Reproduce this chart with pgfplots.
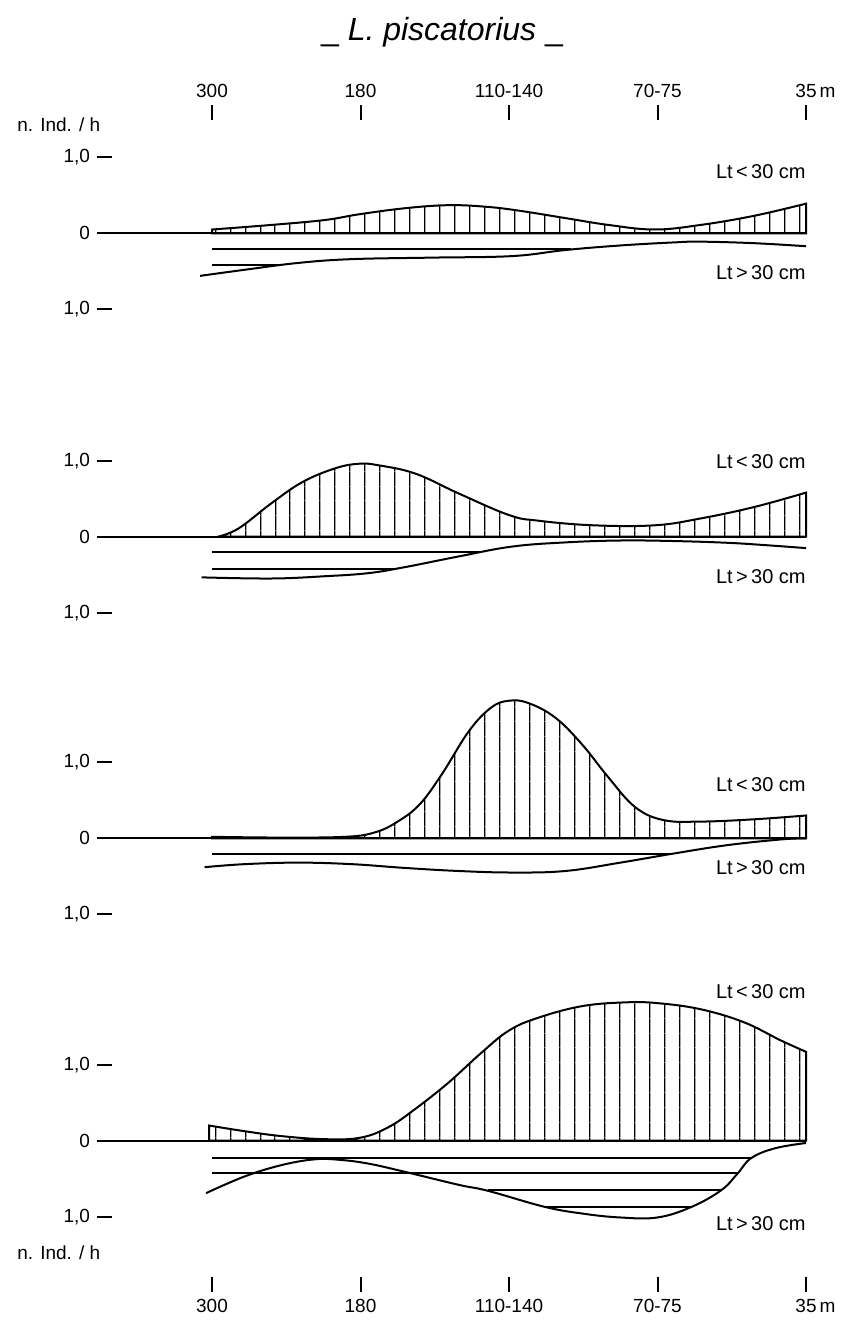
\documentclass[border=0pt]{standalone}
\usepackage{fontspec}
\setmainfont{Liberation Sans}
\usepackage{pgfplots}
\usepackage{pgfplotstable}
\pgfplotsset{compat=1.18}
\usetikzlibrary{patterns.meta}

% Panel 1
\pgfplotstableread{
x y
0.00 0.05
0.40 0.11
0.76 0.175
0.99 0.25
1.30 0.33
1.59 0.37
1.84 0.35
2.06 0.30
2.38 0.20
2.67 0.11
2.98 0.05
3.29 0.11
3.65 0.23
4.00 0.39
}\upA
\pgfplotstableread{
x y
-0.08 -0.56
0.22 -0.48
0.58 -0.39
0.94 -0.34
1.48 -0.32
2.02 -0.30
2.38 -0.22
2.75 -0.16
3.11 -0.12
3.29 -0.11
3.65 -0.13
4.00 -0.17
}\loA
% Panel 2
\pgfplotstableread{
x y
0.04 0.0
0.18 0.11
0.40 0.44
0.61 0.72
0.83 0.90
0.99 0.96
1.12 0.94
1.37 0.83
1.66 0.57
2.00 0.285
2.20 0.21
2.57 0.15
2.98 0.15
3.29 0.24
3.65 0.39
4.00 0.58
}\upB
\pgfplotstableread{
x y
-0.07 -0.535
0.40 -0.55
0.76 -0.52
1.05 -0.48
1.30 -0.40
1.66 -0.26
2.02 -0.13
2.38 -0.075
2.75 -0.05
3.11 -0.057
3.47 -0.08
3.72 -0.11
4.00 -0.15
}\loB
% Panel 3
\pgfplotstableread{
x y
0.00 0.02
0.45 0.01
0.90 0.02
1.10 0.08
1.25 0.22
1.40 0.45
1.55 0.85
1.73 1.41
1.88 1.72
2.00 1.81
2.13 1.78
2.31 1.59
2.49 1.24
2.67 0.80
2.85 0.41
3.04 0.24
3.29 0.22
3.65 0.25
4.00 0.30
}\upC
\pgfplotstableread{
x y
-0.05 -0.38
0.22 -0.34
0.58 -0.32
0.94 -0.34
1.30 -0.39
1.66 -0.43
2.02 -0.45
2.38 -0.43
2.75 -0.32
3.11 -0.20
3.47 -0.09
3.83 -0.015
4.00 0.0
}\loC
% Panel 4
\pgfplotstableread{
x y
-0.02 0.20
0.22 0.125
0.47 0.06
0.76 0.02
1.00 0.04
1.19 0.18
1.37 0.42
1.59 0.76
1.81 1.15
2.00 1.45
2.20 1.62
2.49 1.77
2.78 1.82
3.00 1.81
3.29 1.73
3.58 1.56
3.83 1.32
4.00 1.17
}\upD
\pgfplotstableread{
x y
-0.04 -0.69
0.22 -0.47
0.47 -0.32
0.69 -0.245
0.85 -0.25
1.05 -0.30
1.30 -0.41
1.66 -0.58
1.86 -0.66
2.24 -0.87
2.50 -0.96
2.75 -1.01
3.00 -1.01
3.23 -0.87
3.43 -0.65
3.54 -0.43
3.63 -0.23
3.79 -0.10
4.00 -0.03
}\loD

\tikzset{
  lab/.style={anchor=east, inner sep=0pt, font=\fontsize{10}{12}\selectfont},
  unitlab/.style={anchor=west, inner sep=0pt, font=\fontsize{9.5}{11}\selectfont},
}
\pgfplotsset{
  panel/.style={
    x=74.25pt, y=38pt,
    xmin=-0.774, xmax=4.05,
    axis y line*=left,
    axis line style={draw=none},
    ytick={-1,0,1},
    yticklabels={{1,0},{0},{1,0}},
    ytick align=inside,
    major tick length=7.5pt,
    tick style={black, line width=1pt},
    tick label style={font=\fontsize{9.5}{11}\selectfont},
    clip=false,
    anchor=origin,
  },
  hatchup/.style={smooth, tension=0.65, line width=1pt, black,
    pattern={Lines[angle=90,distance=7.4pt,line width=0.6pt]}},
  lowcurve/.style={smooth, tension=0.65, line width=1pt, black},
  hline/.style={line width=1pt, black},
  zline/.style={line width=1.1pt, black},
}

\begin{document}
\begin{tikzpicture}
\useasboundingbox (0,0) rectangle (421.5pt,-661pt);

% ---------- Panel 1 ----------
\begin{axis}[panel, at={(106pt,-116.65pt)}, ymin=-1.3, ymax=1.49,
  axis x line*=top, xtick={0,1,2,3,4},
  xticklabels={300,180,110-140,70-75,{35\rlap{\,m}}},
  xtick align=outside]
\addplot[zline] coordinates {(-0.774,0) (4,0)};
\addplot[hatchup] table[x=x,y=y] {\upA} \closedcycle;
\addplot[lowcurve] table[x=x,y=y] {\loA};
\addplot[hline] coordinates {(0,-0.2) (2.42,-0.2)};
\addplot[hline] coordinates {(0,-0.42) (0.45,-0.42)};
\node[lab] at (axis cs:4,0.81) {Lt\,<\,30 cm};
\node[lab] at (axis cs:4,-0.52) {Lt\,>\,30 cm};
\node[unitlab] at (axis cs:-1.313,1.425) {n. Ind. / h};
\node[font=\fontsize{16}{19}\selectfont] at (axis cs:1.549,2.64) {\_\ \textit{L. piscatorius} \_};
\end{axis}

% ---------- Panel 2 ----------
\begin{axis}[panel, at={(106pt,-268.35pt)}, ymin=-1.3, ymax=1.3,
  axis x line*=bottom, xtick=\empty]
\addplot[zline] coordinates {(-0.774,0) (4,0)};
\addplot[hatchup] table[x=x,y=y] {\upB} \closedcycle;
\addplot[lowcurve] table[x=x,y=y] {\loB};
\addplot[hline] coordinates {(0,-0.2) (1.81,-0.2)};
\addplot[hline] coordinates {(0,-0.42) (1.23,-0.42)};
\node[lab] at (axis cs:4,0.99) {Lt\,<\,30 cm};
\node[lab] at (axis cs:4,-0.53) {Lt\,>\,30 cm};
\end{axis}

% ---------- Panel 3 ----------
\begin{axis}[panel, at={(106pt,-419.15pt)}, ymin=-1.3, ymax=2.0,
  axis x line*=bottom, xtick=\empty]
\addplot[zline] coordinates {(-0.774,0) (4,0)};
\addplot[hatchup] table[x=x,y=y] {\upC} \closedcycle;
\addplot[lowcurve] table[x=x,y=y] {\loC};
\addplot[hline] coordinates {(0,-0.2) (3.1,-0.2)};
\node[lab] at (axis cs:4,0.70) {Lt\,<\,30 cm};
\node[lab] at (axis cs:4,-0.39) {Lt\,>\,30 cm};
\end{axis}

% ---------- Panel 4 ----------
\begin{axis}[panel, at={(106pt,-570.35pt)}, ymin=-1.79, ymax=2.0,
  axis x line*=bottom, xtick={0,1,2,3,4},
  xticklabels={300,180,110-140,70-75,{35\rlap{\,m}}},
  xtick align=outside]
\addplot[zline] coordinates {(-0.774,0) (4,0)};
\addplot[hatchup] table[x=x,y=y] {\upD} \closedcycle;
\addplot[lowcurve] table[x=x,y=y] {\loD};
\addplot[hline] coordinates {(0,-0.23) (3.63,-0.23)};
\addplot[hline] coordinates {(0,-0.43) (3.54,-0.43)};
\addplot[hline] coordinates {(1.86,-0.65) (3.43,-0.65)};
\addplot[hline] coordinates {(2.24,-0.87) (3.23,-0.87)};
\node[lab] at (axis cs:4,1.96) {Lt\,<\,30 cm};
\node[lab] at (axis cs:4,-1.09) {Lt\,>\,30 cm};
\node[unitlab] at (axis cs:-1.313,-1.478) {n. Ind. / h};
\end{axis}
\end{tikzpicture}
\end{document}
